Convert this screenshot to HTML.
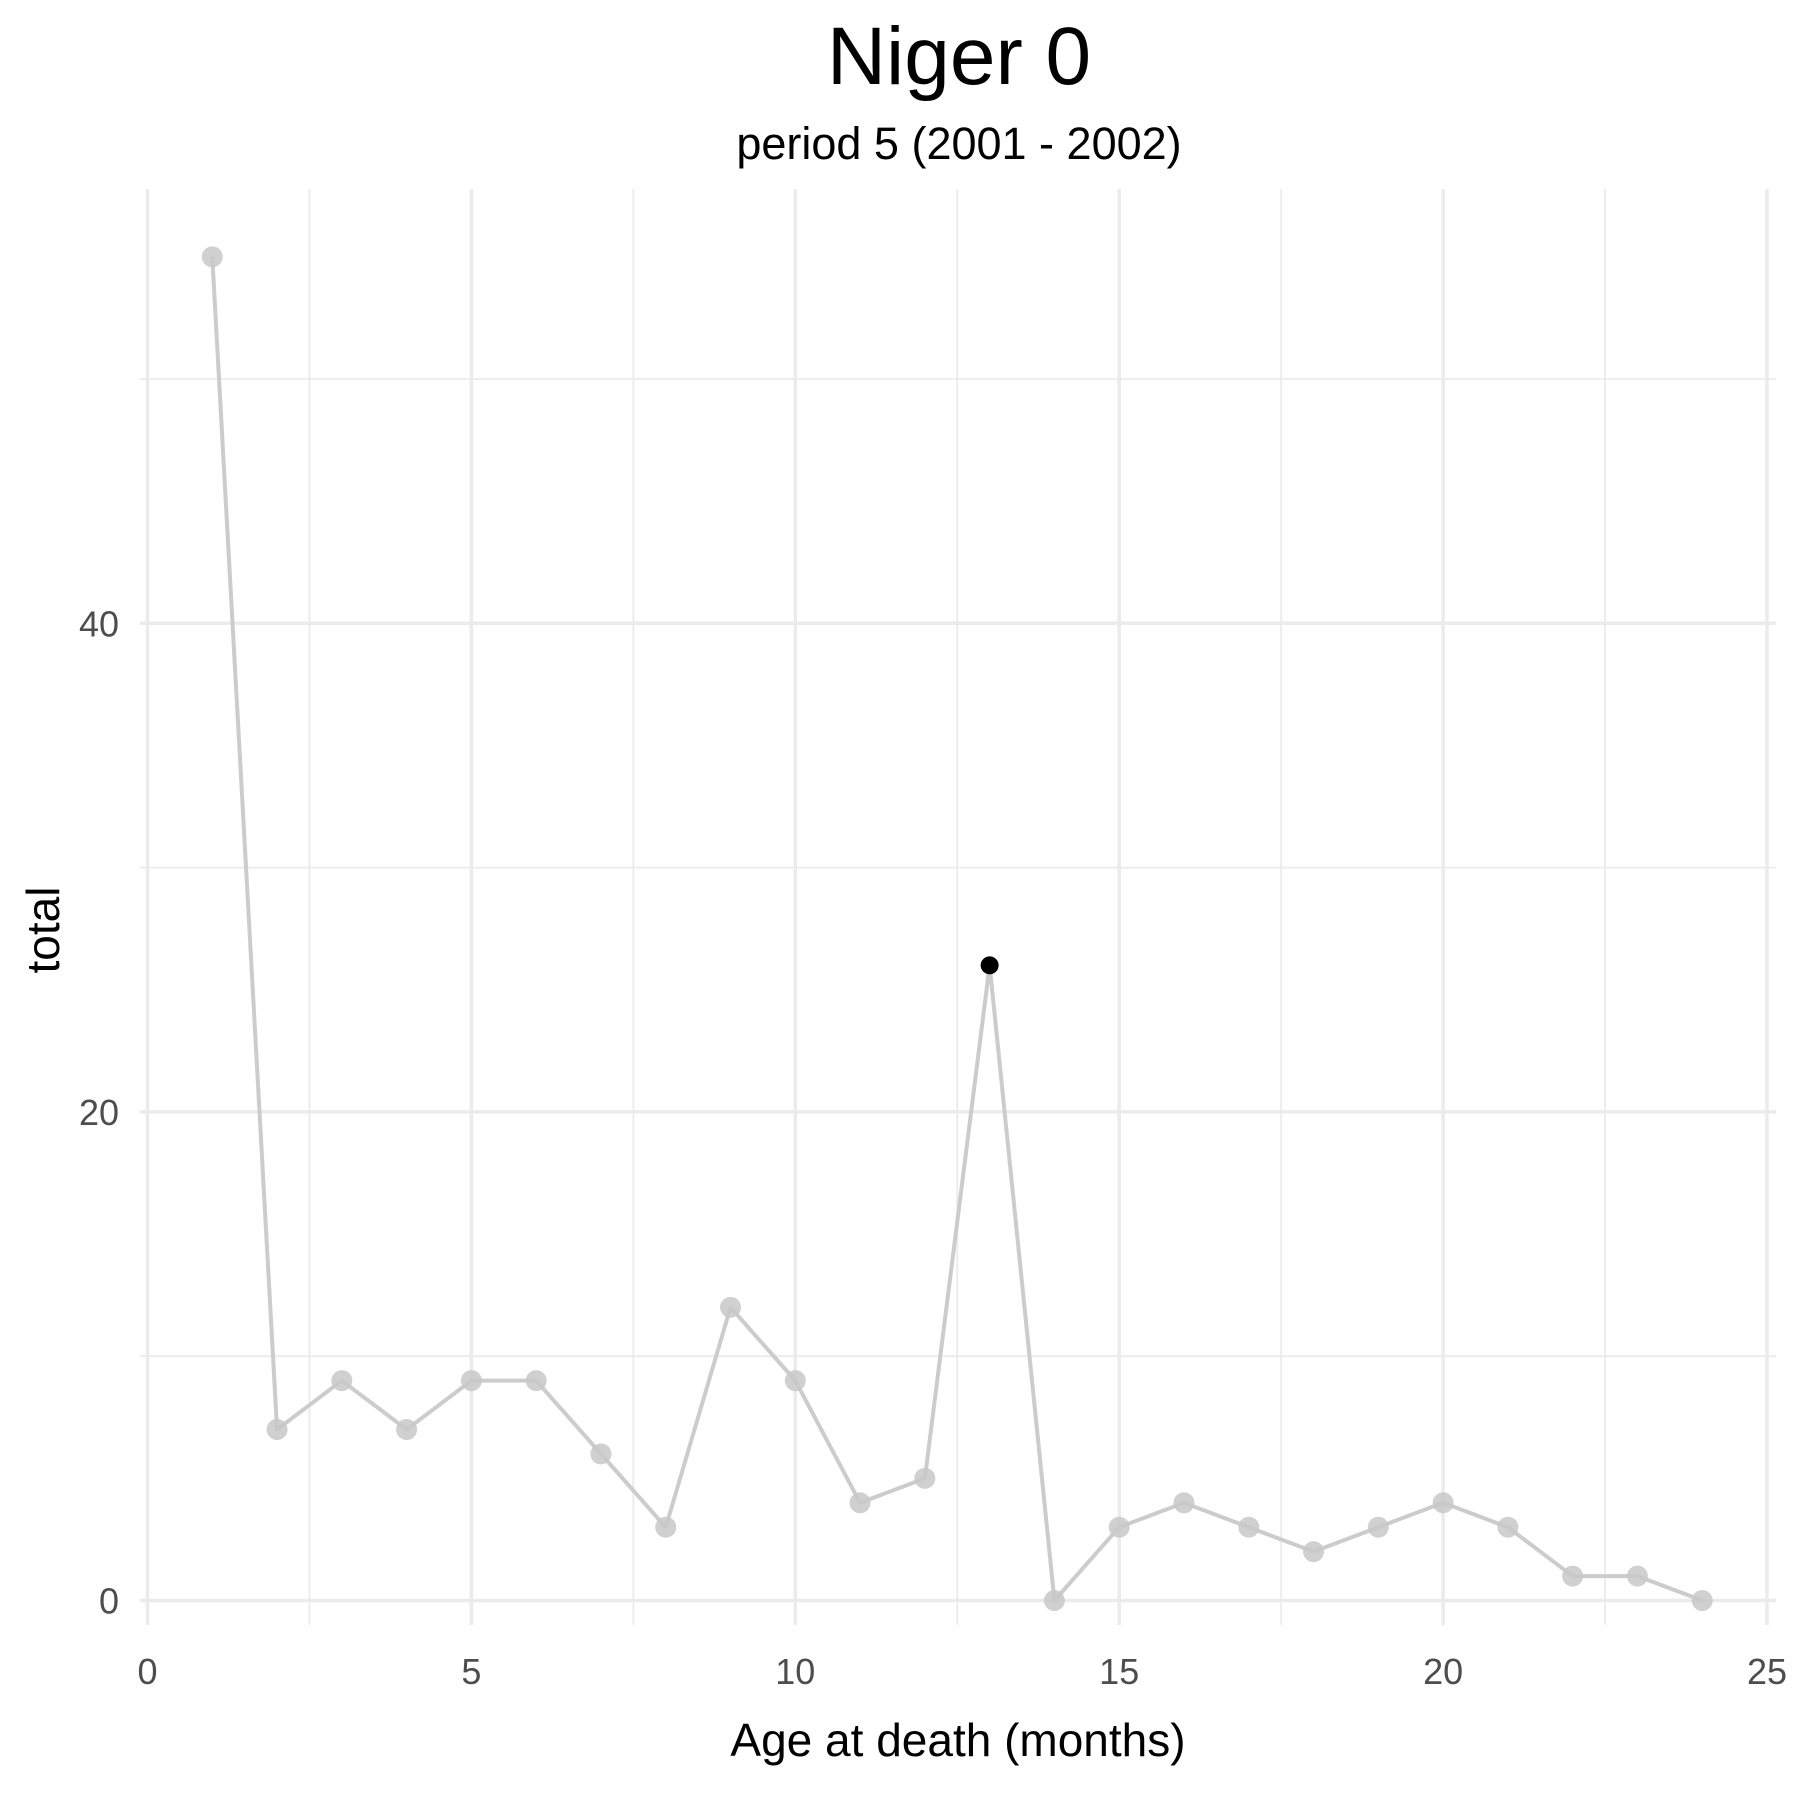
<!DOCTYPE html>
<html><head><meta charset="utf-8"><style>
html,body{margin:0;padding:0;background:#fff;}
svg{display:block;font-family:"Liberation Sans",Arial,sans-serif;}
</style></head><body>
<svg id="chart" width="1800" height="1800" viewBox="0 0 1800 1800">
<text x="959" y="84" font-size="82" text-anchor="middle" fill="#000">Niger 0</text>
<text x="959" y="159" font-size="45" text-anchor="middle" fill="#000">period 5 (2001 - 2002)</text>
<g id="grid"></g>
<g id="xticks"></g>
<g id="yticks"></g>
<g id="series"></g>
<text x="958" y="1756" font-size="46" text-anchor="middle" fill="#000">Age at death (months)</text>
<text transform="translate(59,930) rotate(-90)" font-size="46" text-anchor="middle" fill="#000">total</text>
</svg>
<script>
const months = [1,2,3,4,5,6,7,8,9,10,11,12,13,14,15,16,17,18,19,20,21,22,23,24];
const totals = [55,7,9,7,9,9,6,3,12,9,4,5,26,0,3,4,3,2,3,4,3,1,1,0];
const highlightMonth = 13;
const xTicks = [0,5,10,15,20,25];
const xMinor = [2.5,7.5,12.5,17.5,22.5];
const yTicks = [0,20,40];
const yMinor = [10,30,50];

const NS="http://www.w3.org/2000/svg";
const L=140,R=1776,T=189,B=1625;
const sx=v=>147.5+v*64.78;
const sy=v=>1600.5-v*24.43;
function mk(tag,attrs,parent){const e=document.createElementNS(NS,tag);for(const k in attrs)e.setAttribute(k,attrs[k]);parent.appendChild(e);return e;}
const grid=document.getElementById('grid');
yMinor.forEach(v=>{const e=mk('line',{x1:L,x2:R,y1:sy(v),y2:sy(v),stroke:'#ebebeb','stroke-width':1.8},grid);

});
xMinor.forEach(v=>{const e=mk('line',{x1:sx(v),x2:sx(v),y1:T,y2:B,stroke:'#ebebeb','stroke-width':1.8},grid);

});
yTicks.forEach(v=>{const e=mk('line',{x1:L,x2:R,y1:sy(v),y2:sy(v),stroke:'#ebebeb','stroke-width':3.5},grid);

});
xTicks.forEach(v=>{const e=mk('line',{x1:sx(v),x2:sx(v),y1:T,y2:B,stroke:'#ebebeb','stroke-width':3.5},grid);

});
const xg=document.getElementById('xticks');
xTicks.forEach(v=>{const t=mk('text',{x:sx(v),y:1684,'font-size':36,'text-anchor':'middle',fill:'#4d4d4d'},xg);t.textContent=v;

});
const yg=document.getElementById('yticks');
yTicks.forEach(v=>{const t=mk('text',{x:119,y:sy(v)+13,'font-size':36,'text-anchor':'end',fill:'#4d4d4d'},yg);t.textContent=v;

});
const sg=document.getElementById('series');
const pts=months.map((m,i)=>sx(m)+','+sy(totals[i])).join(' ');
const pl=mk('polyline',{points:pts,fill:'none',stroke:'#cccccc','stroke-width':4,'stroke-linejoin':'round'},sg);


months.forEach((m,i)=>{
  const hl=m===highlightMonth;
  const c=mk('circle',{cx:sx(m),cy:sy(totals[i]),r:hl?9:10.5,fill:hl?'#000':'#c8c8c8','fill-opacity':hl?1:0.85},sg);
  
  
});
</script>
</body></html>
